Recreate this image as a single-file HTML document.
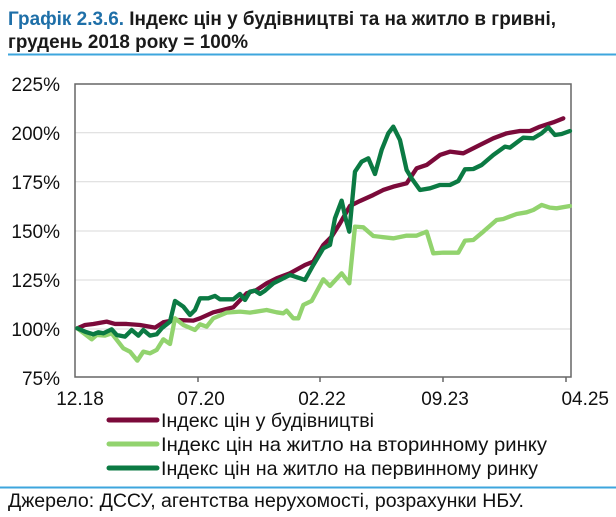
<!DOCTYPE html>
<html><head><meta charset="utf-8"><style>
html,body{margin:0;padding:0;background:#fff;width:616px;height:517px;overflow:hidden}
svg{display:block;font-family:"Liberation Sans",sans-serif}
</style></head><body>
<svg width="616" height="517" viewBox="0 0 616 517">
<text x="8" y="25" font-size="19" font-weight="bold" fill="#1a1a1a" textLength="548" lengthAdjust="spacingAndGlyphs"><tspan fill="#1e6fa8">Графік 2.3.6.</tspan> Індекс цін у будівництві та на житло в гривні,</text>
<text x="8" y="48" font-size="19" font-weight="bold" fill="#1a1a1a" textLength="240" lengthAdjust="spacingAndGlyphs">грудень 2018 року = 100%</text>
<line x1="8" y1="54.5" x2="616" y2="54.5" stroke="#3ea6dd" stroke-width="2"/>
<g stroke="#d9d9d9" stroke-width="1">
<line x1="75" y1="132.7" x2="571" y2="132.7"/><line x1="75" y1="181.7" x2="571" y2="181.7"/>
<line x1="75" y1="231" x2="571" y2="231"/><line x1="75" y1="280" x2="571" y2="280"/>
<line x1="75" y1="329" x2="571" y2="329"/>
</g>
<rect x="75" y="84" width="496" height="293" fill="none" stroke="#666" stroke-width="1.5"/>
<g stroke="#666" stroke-width="1.5"><line x1="198" y1="377" x2="198" y2="382"/><line x1="320" y1="377" x2="320" y2="382"/><line x1="443" y1="377" x2="443" y2="382"/><line x1="566" y1="377" x2="566" y2="382"/></g>
<g font-size="19" fill="#111" text-anchor="end">
<text x="60" y="91">225%</text><text x="60" y="140">200%</text><text x="60" y="189">175%</text><text x="60" y="238">150%</text><text x="60" y="287">125%</text><text x="60" y="336">100%</text><text x="60" y="385">75%</text>
</g>
<g font-size="19" fill="#111" text-anchor="middle">
<text x="80" y="405">12.18</text><text x="201" y="405">07.20</text><text x="322" y="405">02.22</text><text x="445" y="405">09.23</text><text x="609" y="405" text-anchor="end">04.25</text>
</g>
<g transform="translate(60,70) scale(0.3333)" fill="none" stroke-width="13" stroke-linejoin="round" stroke-linecap="round">
<polyline stroke="#7b0a3a" points="52,775 75,765 100,762 140,755 165,762 200,762 240,765 285,773 310,757 345,750 400,752 420,745 460,727 500,717 520,712 560,670 590,660 620,640 650,625 690,610 735,585 760,575 790,525 815,500 840,460 870,408 900,393 940,375 970,360 1000,350 1040,340 1070,295 1100,285 1140,255 1170,245 1210,250 1260,225 1300,205 1340,190 1380,183 1410,183 1440,170 1480,157 1510,145"/>
<polyline stroke="#92d36e" points="52,775 95,808 110,795 135,797 155,790 190,835 210,845 232,872 250,845 270,850 290,840 310,808 330,822 345,745 370,765 405,780 420,763 440,770 460,745 500,728 540,725 570,728 620,720 650,727 670,730 680,722 700,745 715,745 730,705 755,693 790,628 810,648 845,610 868,640 885,470 910,472 940,498 1000,505 1040,497 1070,497 1100,485 1120,550 1150,548 1195,548 1215,512 1240,510 1270,485 1310,450 1330,447 1370,432 1400,427 1420,420 1445,405 1470,413 1490,415 1530,408"/>
<polyline stroke="#0b7a43" points="52,775 75,785 100,793 115,787 130,790 155,778 170,795 195,800 215,780 235,797 250,780 270,797 290,793 305,775 330,755 345,693 370,710 390,735 405,720 420,685 445,685 465,678 480,688 520,688 540,672 555,690 570,665 585,662 600,672 615,662 640,640 670,625 690,615 735,630 760,585 790,535 810,525 825,445 845,392 858,450 868,485 885,305 905,275 925,265 945,312 965,240 985,190 1000,170 1020,210 1040,300 1055,325 1080,360 1110,355 1140,345 1170,345 1195,333 1215,298 1240,297 1265,285 1300,255 1335,230 1350,233 1390,203 1420,205 1445,190 1465,172 1485,195 1505,192 1530,183"/>
</g>
<g stroke-width="5" stroke-linecap="round">
<line x1="109" y1="420" x2="157" y2="420" stroke="#7b0a3a"/>
<line x1="109" y1="444" x2="157" y2="444" stroke="#92d36e"/>
<line x1="109" y1="468" x2="157" y2="468" stroke="#0b7a43"/>
</g>
<g font-size="19.5" fill="#111">
<text x="161" y="427" textLength="213" lengthAdjust="spacingAndGlyphs">Індекс цін у будівництві</text>
<text x="161" y="451" textLength="386" lengthAdjust="spacingAndGlyphs">Індекс цін на житло на вторинному ринку</text>
<text x="161" y="475" textLength="377" lengthAdjust="spacingAndGlyphs">Індекс цін на житло на первинному ринку</text>
</g>
<line x1="0" y1="487.5" x2="616" y2="487.5" stroke="#3ea6dd" stroke-width="2"/>
<text x="8" y="507" font-size="19" fill="#111" textLength="516" lengthAdjust="spacingAndGlyphs">Джерело: ДССУ, агентства нерухомості, розрахунки НБУ.</text>
</svg>
</body></html>
